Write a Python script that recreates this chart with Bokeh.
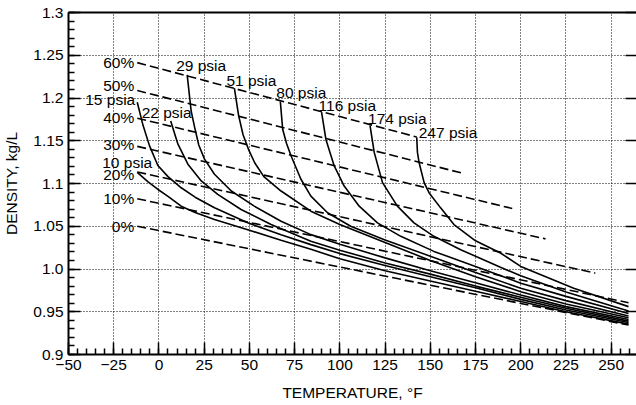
from bokeh.plotting import figure
from bokeh.models import ColumnDataSource, LinearAxis, FixedTicker, Range1d
from bokeh.embed import file_html
from bokeh.resources import INLINE
from bokeh.core.properties import value

# ---------------- data ----------------
temp_ticks = [-50, -25, 0, 25, 50, 75, 100, 125, 150, 175, 200, 225, 250]
temp_tick_labels = ["\u221250", "\u221225", "0", "25", "50", "75", "100", "125",
                    "150", "175", "200", "225", "250"]
dens_ticks = [0.9, 0.95, 1.0, 1.05, 1.1, 1.15, 1.2, 1.25, 1.3]
dens_tick_labels = ["0.9", "0.95", "1.0", "1.05", "1.1", "1.15", "1.2", "1.25", "1.3"]

# concentration lines (dashed): start and end points
conc_labels = ["0%", "10%", "20%", "30%", "40%", "50%", "60%"]
conc_start_temp = [-12, -12, -12, -12, -12, -12, -12]
conc_start_dens = [1.050, 1.0822, 1.1135, 1.1434, 1.1764, 1.2088, 1.2414]
conc_end_temp = [259.6, 259.6, 241.2, 213.7, 195.3, 168.6, 142.5]
conc_end_dens = [0.9344, 0.9606, 0.9952, 1.0352, 1.0708, 1.1116, 1.1544]

# isobars (solid)
isobar_labels = ["10 psia", "15 psia", "22 psia", "29 psia", "51 psia",
                 "80 psia", "116 psia", "174 psia", "247 psia"]
p10_temp = [-12, -6, -0.5, 5, 12.3, 20, 30.7, 49.1, 67.5, 84, 100, 125, 150, 175, 200, 225, 259.6]
p10_dens = [1.113, 1.102, 1.093, 1.085, 1.0735, 1.066, 1.058, 1.046, 1.0335, 1.023, 1.012, 0.998, 0.986, 0.974, 0.962, 0.950, 0.9355]
p15_temp = [-12, -8.8, -5.2, -0.6, 5, 12.3, 20, 30.7, 49.1, 67.5, 84, 100, 125, 150, 175, 200, 225, 259.6]
p15_dens = [1.195, 1.168, 1.144, 1.121, 1.108, 1.095, 1.084, 1.0716, 1.054, 1.040, 1.0285, 1.018, 1.004, 0.991, 0.978, 0.9645, 0.952, 0.9375]
p22_temp = [6.5, 10.5, 16, 23.4, 32.5, 45.4, 62, 84, 100, 125, 150, 175, 200, 225, 259.6]
p22_dens = [1.173, 1.146, 1.1226, 1.103, 1.0873, 1.0696, 1.052, 1.0324, 1.022, 1.007, 0.994, 0.980, 0.967, 0.954, 0.939]
p29_temp = [15.6, 17.8, 19.7, 22, 25.2, 30.7, 40, 52.7, 67.5, 84, 100, 125, 150, 175, 200, 225, 259.6]
p29_dens = [1.227, 1.185, 1.166, 1.145, 1.1285, 1.1108, 1.0912, 1.0735, 1.0559, 1.0402, 1.029, 1.013, 0.998, 0.984, 0.9696, 0.956, 0.941]
p51_temp = [41.7, 44, 46.5, 49.5, 53, 58, 67.5, 84, 100, 125, 150, 175, 200, 225, 259.6]
p51_dens = [1.2116, 1.180, 1.157, 1.140, 1.124, 1.108, 1.0912, 1.0676, 1.052, 1.031, 1.010, 0.991, 0.9735, 0.959, 0.943]
p80_temp = [67.1, 68.4, 70.5, 73, 78.5, 84, 93.2, 106, 125, 150, 175, 200, 225, 259.6]
p80_dens = [1.1959, 1.1635, 1.147, 1.1324, 1.105, 1.0853, 1.0658, 1.050, 1.034, 1.015, 0.996, 0.9775, 0.963, 0.945]
p116_temp = [89.9, 92.3, 96.9, 102.4, 110.7, 120.8, 133.7, 152, 175, 200, 225, 259.6]
p116_dens = [1.1834, 1.1515, 1.1206, 1.097, 1.0735, 1.054, 1.0382, 1.0206, 1.003, 0.9834, 0.968, 0.948]
p174_temp = [116.7, 119, 123.6, 131.8, 141, 152, 166.8, 188.8, 200, 225, 259.6]
p174_dens = [1.1676, 1.1364, 1.101, 1.0735, 1.054, 1.0382, 1.0226, 1.002, 0.992, 0.973, 0.951]
p247_temp = [142.5, 142.9, 143.8, 146.6, 149.3, 155.7, 163.1, 175, 188.8, 200, 229.3, 259.6]
p247_dens = [1.154, 1.1364, 1.1246, 1.101, 1.0893, 1.0715, 1.052, 1.033, 1.0187, 1.003, 0.9775, 0.956]

isobar_temps = [p10_temp, p15_temp, p22_temp, p29_temp, p51_temp, p80_temp, p116_temp, p174_temp, p247_temp]
isobar_dens = [p10_dens, p15_dens, p22_dens, p29_dens, p51_dens, p80_dens, p116_dens, p174_dens, p247_dens]

# ---------------- figure ----------------
FONT = "Liberation Sans"
FS = "15.5px"

p = figure(width=636, height=405, x_range=Range1d(-50, 264), y_range=Range1d(0.9, 1.3),
           output_backend="svg", toolbar_location=None,
           min_border_left=67, min_border_right=0, min_border_top=12, min_border_bottom=51)
p.outline_line_color = None
p.background_fill_color = "white"
p.border_fill_color = "white"

# axes
xax = p.xaxis[0]
xax.ticker = FixedTicker(ticks=temp_ticks, minor_ticks=list(range(-50, 265, 5)))
xax.major_label_overrides = {t: l for t, l in zip(temp_ticks, temp_tick_labels)}
yax = p.yaxis[0]
yax.ticker = FixedTicker(ticks=dens_ticks, minor_ticks=[round(0.9 + 0.01 * i, 2) for i in range(41)])
yax.major_label_overrides = {t: l for t, l in zip(dens_ticks, dens_tick_labels)}
for ax in (xax, yax):
    ax.axis_line_width = 2
    ax.axis_line_color = "black"
    ax.major_tick_in = 12
    ax.major_tick_out = 0
    ax.minor_tick_in = 6
    ax.minor_tick_out = 0
    ax.major_tick_line_width = 1.5
    ax.minor_tick_line_width = 1.5
    ax.major_tick_line_color = "black"
    ax.minor_tick_line_color = "black"
    ax.major_label_text_font = FONT
    ax.major_label_text_font_size = FS
    ax.major_label_text_color = "black"
    ax.axis_label_text_font = FONT
    ax.axis_label_text_font_size = FS
    ax.axis_label_text_font_style = "normal"
    ax.axis_label_text_color = "black"
xax.axis_label = "TEMPERATURE, \u00b0F"
yax.axis_label = "DENSITY, kg/L"
xax.major_label_standoff = 5
xax.axis_label_standoff = 11
yax.major_label_standoff = 5
yax.axis_label_standoff = 10

# top frame line (no ticks, no labels)
top = LinearAxis(ticker=FixedTicker(ticks=[]))
top.axis_line_width = 2
top.axis_line_color = "black"
top.major_tick_in = 0
top.major_tick_out = 0
top.minor_tick_in = 0
top.minor_tick_out = 0
top.major_label_standoff = 0
p.add_layout(top, "above")

# right-side tick stubs
right = LinearAxis(ticker=FixedTicker(ticks=dens_ticks))
right.major_label_overrides = {t: "" for t in dens_ticks}
right.axis_line_color = None
right.major_tick_in = 11
right.major_tick_out = 0
right.minor_tick_in = 0
right.minor_tick_out = 0
right.major_tick_line_width = 1.5
right.major_tick_line_color = "black"
right.major_label_standoff = 0
p.add_layout(right, "right")

# grid
p.xgrid.ticker = FixedTicker(ticks=temp_ticks)
p.ygrid.ticker = FixedTicker(ticks=dens_ticks)
for g in (p.xgrid[0], p.ygrid[0]):
    g.grid_line_color = "black"
    g.grid_line_dash = "1 2"
    g.grid_line_width = 1

# concentration lines
for t0, d0, t1, d1 in zip(conc_start_temp, conc_start_dens, conc_end_temp, conc_end_dens):
    p.line([t0, t1], [d0, d1], line_color="black", line_width=1.6, line_dash="9 4")

# isobars
for ts, ds in zip(isobar_temps, isobar_dens):
    p.line(ts, ds, line_color="black", line_width=1.6)

# labels for concentration lines
conc_src = ColumnDataSource(dict(x=conc_start_temp, y=conc_start_dens, text=conc_labels,
                                 yo=[0, 0, 3, -1.5, -1, -4.5, 0]))
p.text(x="x", y="y", text="text", source=conc_src, x_offset=-3, y_offset="yo",
       text_align="right", text_baseline="middle", text_font=value(FONT),
       text_font_size=FS, text_color="black")

# labels for isobars
iso_x = [ts[0] for ts in isobar_temps]
iso_y = [ds[0] for ds in isobar_dens]
iso_src = ColumnDataSource(dict(x=iso_x, y=iso_y, text=isobar_labels,
                                xo=[-35, -52, -29, -11, -8, -4, -3, -2, 2],
                                yo=[-10, -3, -9, -9, -8, -9, -7, -7, -5]))
p.text(x="x", y="y", text="text", source=iso_src, x_offset="xo", y_offset="yo",
       text_align="left", text_baseline="middle", text_font=value(FONT),
       text_font_size=FS, text_color="black")

open("out.html", "w").write(file_html(p, INLINE))
